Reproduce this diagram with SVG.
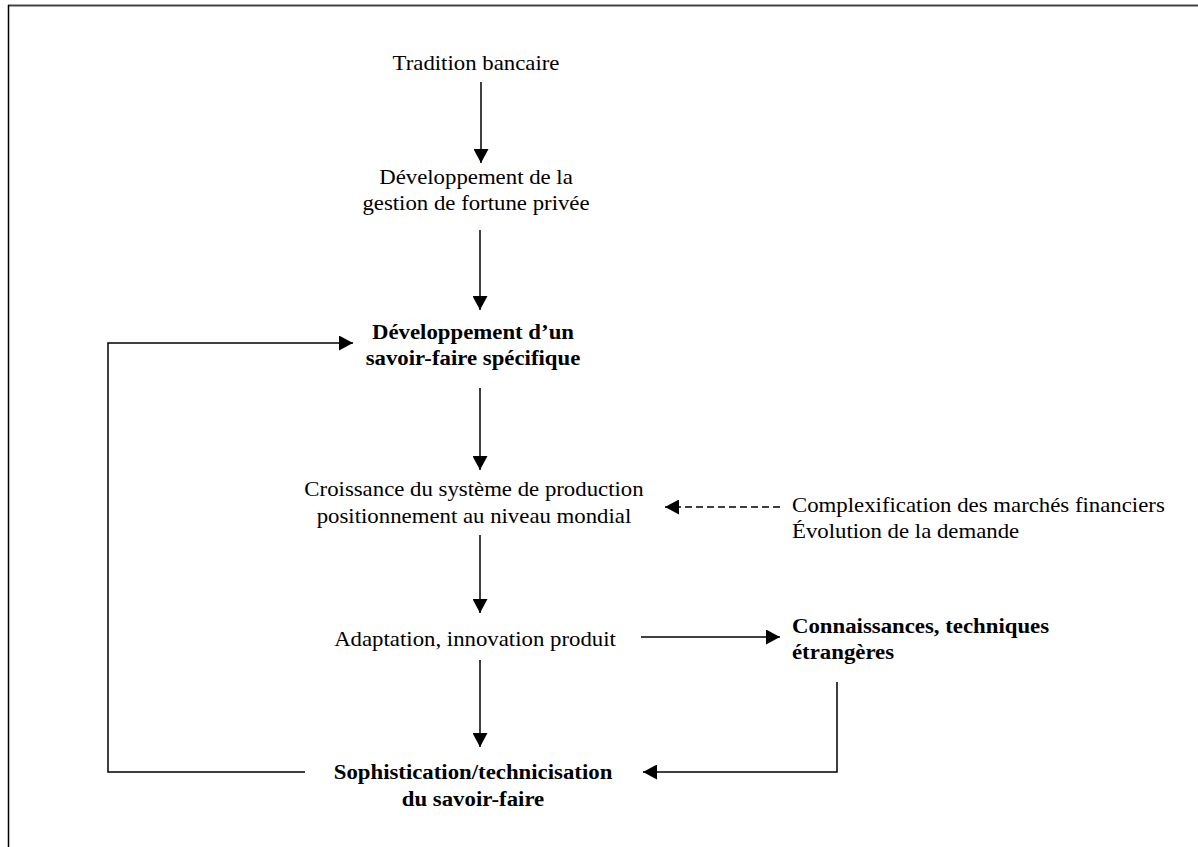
<svg xmlns="http://www.w3.org/2000/svg" width="1198" height="847" viewBox="0 0 1198 847">
  <style>
    text { font-family: "Liberation Serif", "Times New Roman", serif; font-size: 20px; fill: #000; }
    .c { text-anchor: middle; }
    .b { font-weight: bold; }
    .wire { fill: none; stroke: #000; stroke-width: 1.5; }
    .dash { stroke-dasharray: 7 4; }
  </style>
  <defs>
    <marker id="head" markerUnits="userSpaceOnUse" markerWidth="15" markerHeight="15" refX="14" refY="7.5" orient="auto">
      <path d="M0,0 L14,7.5 L0,15 z" fill="#000"/>
    </marker>
  </defs>

  <rect width="1198" height="847" fill="#fff"/>

  <!-- frame: top and left edges -->
  <g id="frame">
    <line x1="8" y1="5.5" x2="1198" y2="5.5" stroke="#444" stroke-width="2"/>
    <line x1="8.5" y1="5" x2="8.5" y2="847" stroke="#000" stroke-width="1.5"/>
  </g>

  <!-- connectors -->
  <g id="connectors">
    <line class="wire" x1="481" y1="82" x2="481" y2="163" marker-end="url(#head)"/>
    <line class="wire" x1="480" y1="230" x2="480" y2="310" marker-end="url(#head)"/>
    <line class="wire" x1="480" y1="388" x2="480" y2="470" marker-end="url(#head)"/>
    <line class="wire" x1="480" y1="535" x2="480" y2="613" marker-end="url(#head)"/>
    <line class="wire" x1="480" y1="660" x2="480" y2="747" marker-end="url(#head)"/>
    <line class="wire" x1="641" y1="637" x2="780" y2="637" marker-end="url(#head)"/>
    <line class="wire dash" x1="780" y1="507" x2="665" y2="507" marker-end="url(#head)"/>
    <polyline class="wire" points="837,682 837,772 643,772" marker-end="url(#head)"/>
    <polyline class="wire" points="305,772 108,772 108,343 353,343" marker-end="url(#head)"/>
  </g>

  <!-- nodes -->
  <g id="tradition" transform="translate(476,0)">
    <g transform="scale(1.14,1)"><text class="c" x="0" y="70">Tradition bancaire</text></g>
  </g>
  <g id="gestion" transform="translate(476,0)">
    <g transform="scale(1.14,1)">
      <text class="c" x="0" y="184">Développement de la</text>
      <text class="c" x="0" y="210">gestion de fortune privée</text>
    </g>
  </g>
  <g id="savoir-faire" transform="translate(473,0)">
    <g transform="scale(1.14,1)">
      <text class="c b" x="0" y="339">Développement d’un</text>
      <text class="c b" x="0" y="365">savoir-faire spécifique</text>
    </g>
  </g>
  <g id="croissance" transform="translate(474,0)">
    <g transform="scale(1.14,1)">
      <text class="c" x="0" y="496">Croissance du système de production</text>
      <text class="c" x="0" y="523">positionnement au niveau mondial</text>
    </g>
  </g>
  <g id="marches" transform="translate(792,0)">
    <g transform="scale(1.14,1)">
      <text x="0" y="512">Complexification des marchés financiers</text>
      <text x="0" y="538">Évolution de la demande</text>
    </g>
  </g>
  <g id="adaptation" transform="translate(475,0)">
    <g transform="scale(1.14,1)"><text class="c" x="0" y="646">Adaptation, innovation produit</text></g>
  </g>
  <g id="connaissances" transform="translate(792,0)">
    <g transform="scale(1.14,1)">
      <text class="b" x="0" y="633">Connaissances, techniques</text>
      <text class="b" x="0" y="659">étrangères</text>
    </g>
  </g>
  <g id="sophistication" transform="translate(473,0)">
    <g transform="scale(1.14,1)">
      <text class="c b" x="0" y="779">Sophistication/technicisation</text>
      <text class="c b" x="0" y="806">du savoir-faire</text>
    </g>
  </g>
</svg>
